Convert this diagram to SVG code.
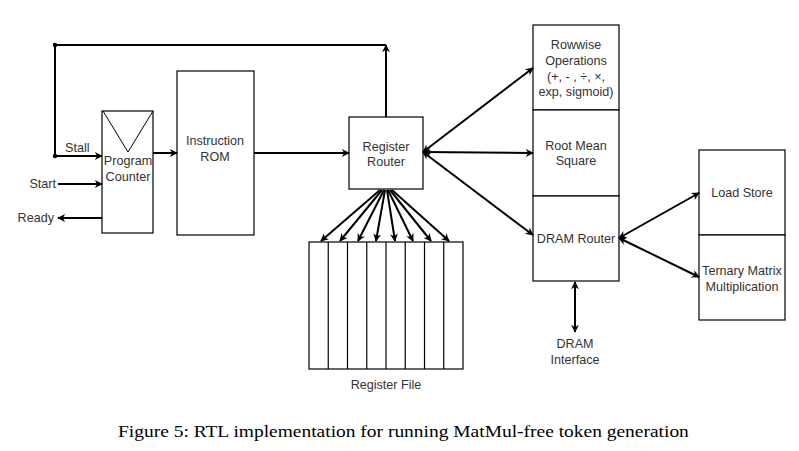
<svg xmlns="http://www.w3.org/2000/svg" width="799" height="451" viewBox="0 0 799 451">
<defs>
<marker id="ah" viewBox="0 0 10 10" refX="9" refY="5" markerWidth="9" markerHeight="8" markerUnits="userSpaceOnUse" orient="auto-start-reverse">
<path d="M0,0 L10,5 L0,10 L3,5 z" fill="#000"/>
</marker>
<style>
.box{fill:#fff;stroke:#000;stroke-width:1.2}
.t{font-family:"Liberation Sans",Arial,sans-serif;font-size:12.6px;fill:#333;text-anchor:middle}
.tl{font-family:"Liberation Sans",Arial,sans-serif;font-size:12.6px;fill:#333}
.c{fill:none;stroke:#000;stroke-width:2}
.a{marker-end:url(#ah)}
.d{marker-start:url(#ah);marker-end:url(#ah)}
</style>
</defs>
<rect width="799" height="451" fill="#fff"/>
<g id="program-counter">
<rect class="box" x="102" y="111" width="51" height="122"/>
<path d="M103,111 L128,152 L153,111" fill="none" stroke="#000" stroke-width="1"/>
<text class="t" x="128" y="165">Program</text>
<text class="t" x="128" y="181">Counter</text>
</g>
<g id="instruction-rom">
<rect class="box" x="177" y="71" width="77" height="164"/>
<text class="t" x="215" y="145">Instruction</text>
<text class="t" x="215" y="161">ROM</text>
</g>
<g id="register-router">
<rect class="box" x="349" y="117" width="74" height="72"/>
<text class="t" x="386" y="151">Register</text>
<text class="t" x="386" y="166">Router</text>
</g>
<g id="register-file">
<rect class="box" x="309" y="242" width="154" height="127"/>
<path d="M328.25,242V369M347.5,242V369M366.75,242V369M386,242V369M405.25,242V369M424.5,242V369M443.75,242V369" stroke="#000" stroke-width="1.2"/>
<text class="t" x="386" y="389">Register File</text>
</g>
<g id="rowwise-operations">
<rect class="box" x="533" y="25" width="86" height="85"/>
<text class="t" x="576" y="49">Rowwise</text>
<text class="t" x="576" y="65">Operations</text>
<text class="t" x="576" y="81">(+, - , ÷, ×,</text>
<text class="t" x="576" y="96">exp, sigmoid)</text>
</g>
<g id="root-mean-square">
<rect class="box" x="533" y="110" width="86" height="86"/>
<text class="t" x="576" y="150">Root Mean</text>
<text class="t" x="576" y="165">Square</text>
</g>
<g id="dram-router">
<rect class="box" x="533" y="196" width="86" height="85"/>
<text class="t" x="576" y="243">DRAM Router</text>
</g>
<g id="load-store">
<rect class="box" x="699" y="150" width="86" height="85"/>
<text class="t" x="742" y="197">Load Store</text>
</g>
<g id="ternary-matrix-multiplication">
<rect class="box" x="699" y="235" width="86" height="85"/>
<text class="t" x="742" y="275">Ternary Matrix</text>
<text class="t" x="742" y="291">Multiplication</text>
</g>
<g id="dram-interface">
<text class="t" x="575" y="348">DRAM</text>
<text class="t" x="575" y="364">Interface</text>
</g>
<g id="io-labels">
<text class="tl" x="65" y="152">Stall</text>
<text class="tl" x="56" y="188" text-anchor="end">Start</text>
<text class="tl" x="54" y="222" text-anchor="end">Ready</text>
</g>
<g id="connectors">
<path class="c a" d="M153,153H177"/>
<path class="c a" d="M254,153H349"/>
<path class="c a" d="M386,117V45"/>
<path class="c a" d="M386,45H55V156H102"/>
<circle cx="55" cy="45" r="2.2" fill="#000"/>
<circle cx="55" cy="156" r="2.2" fill="#000"/>
<path class="c a" d="M58,184H102"/>
<path class="c a" d="M102,218H58"/>
<path class="c d" d="M423,152L533,68"/>
<path class="c d" d="M423,152L533,153"/>
<path class="c d" d="M423,152L533,235"/>
<path class="c d" d="M619,238L699,193"/>
<path class="c d" d="M619,238L699,277"/>
<path class="c d" d="M575,282V332"/>
<path class="c a" d="M380,190L321,241"/>
<path class="c a" d="M382,190L340,241"/>
<path class="c a" d="M384,190L358,241"/>
<path class="c a" d="M385,190L376,241"/>
<path class="c a" d="M387,190L395,241"/>
<path class="c a" d="M388,190L413,241"/>
<path class="c a" d="M390,190L431,241"/>
<path class="c a" d="M392,190L449,241"/>
</g>
<text transform="translate(118,437) scale(1.145,1)" x="0" y="0" font-family="'Liberation Serif','Times New Roman',serif" font-size="17" fill="#000">Figure 5: RTL implementation for running MatMul-free token generation</text>
</svg>
